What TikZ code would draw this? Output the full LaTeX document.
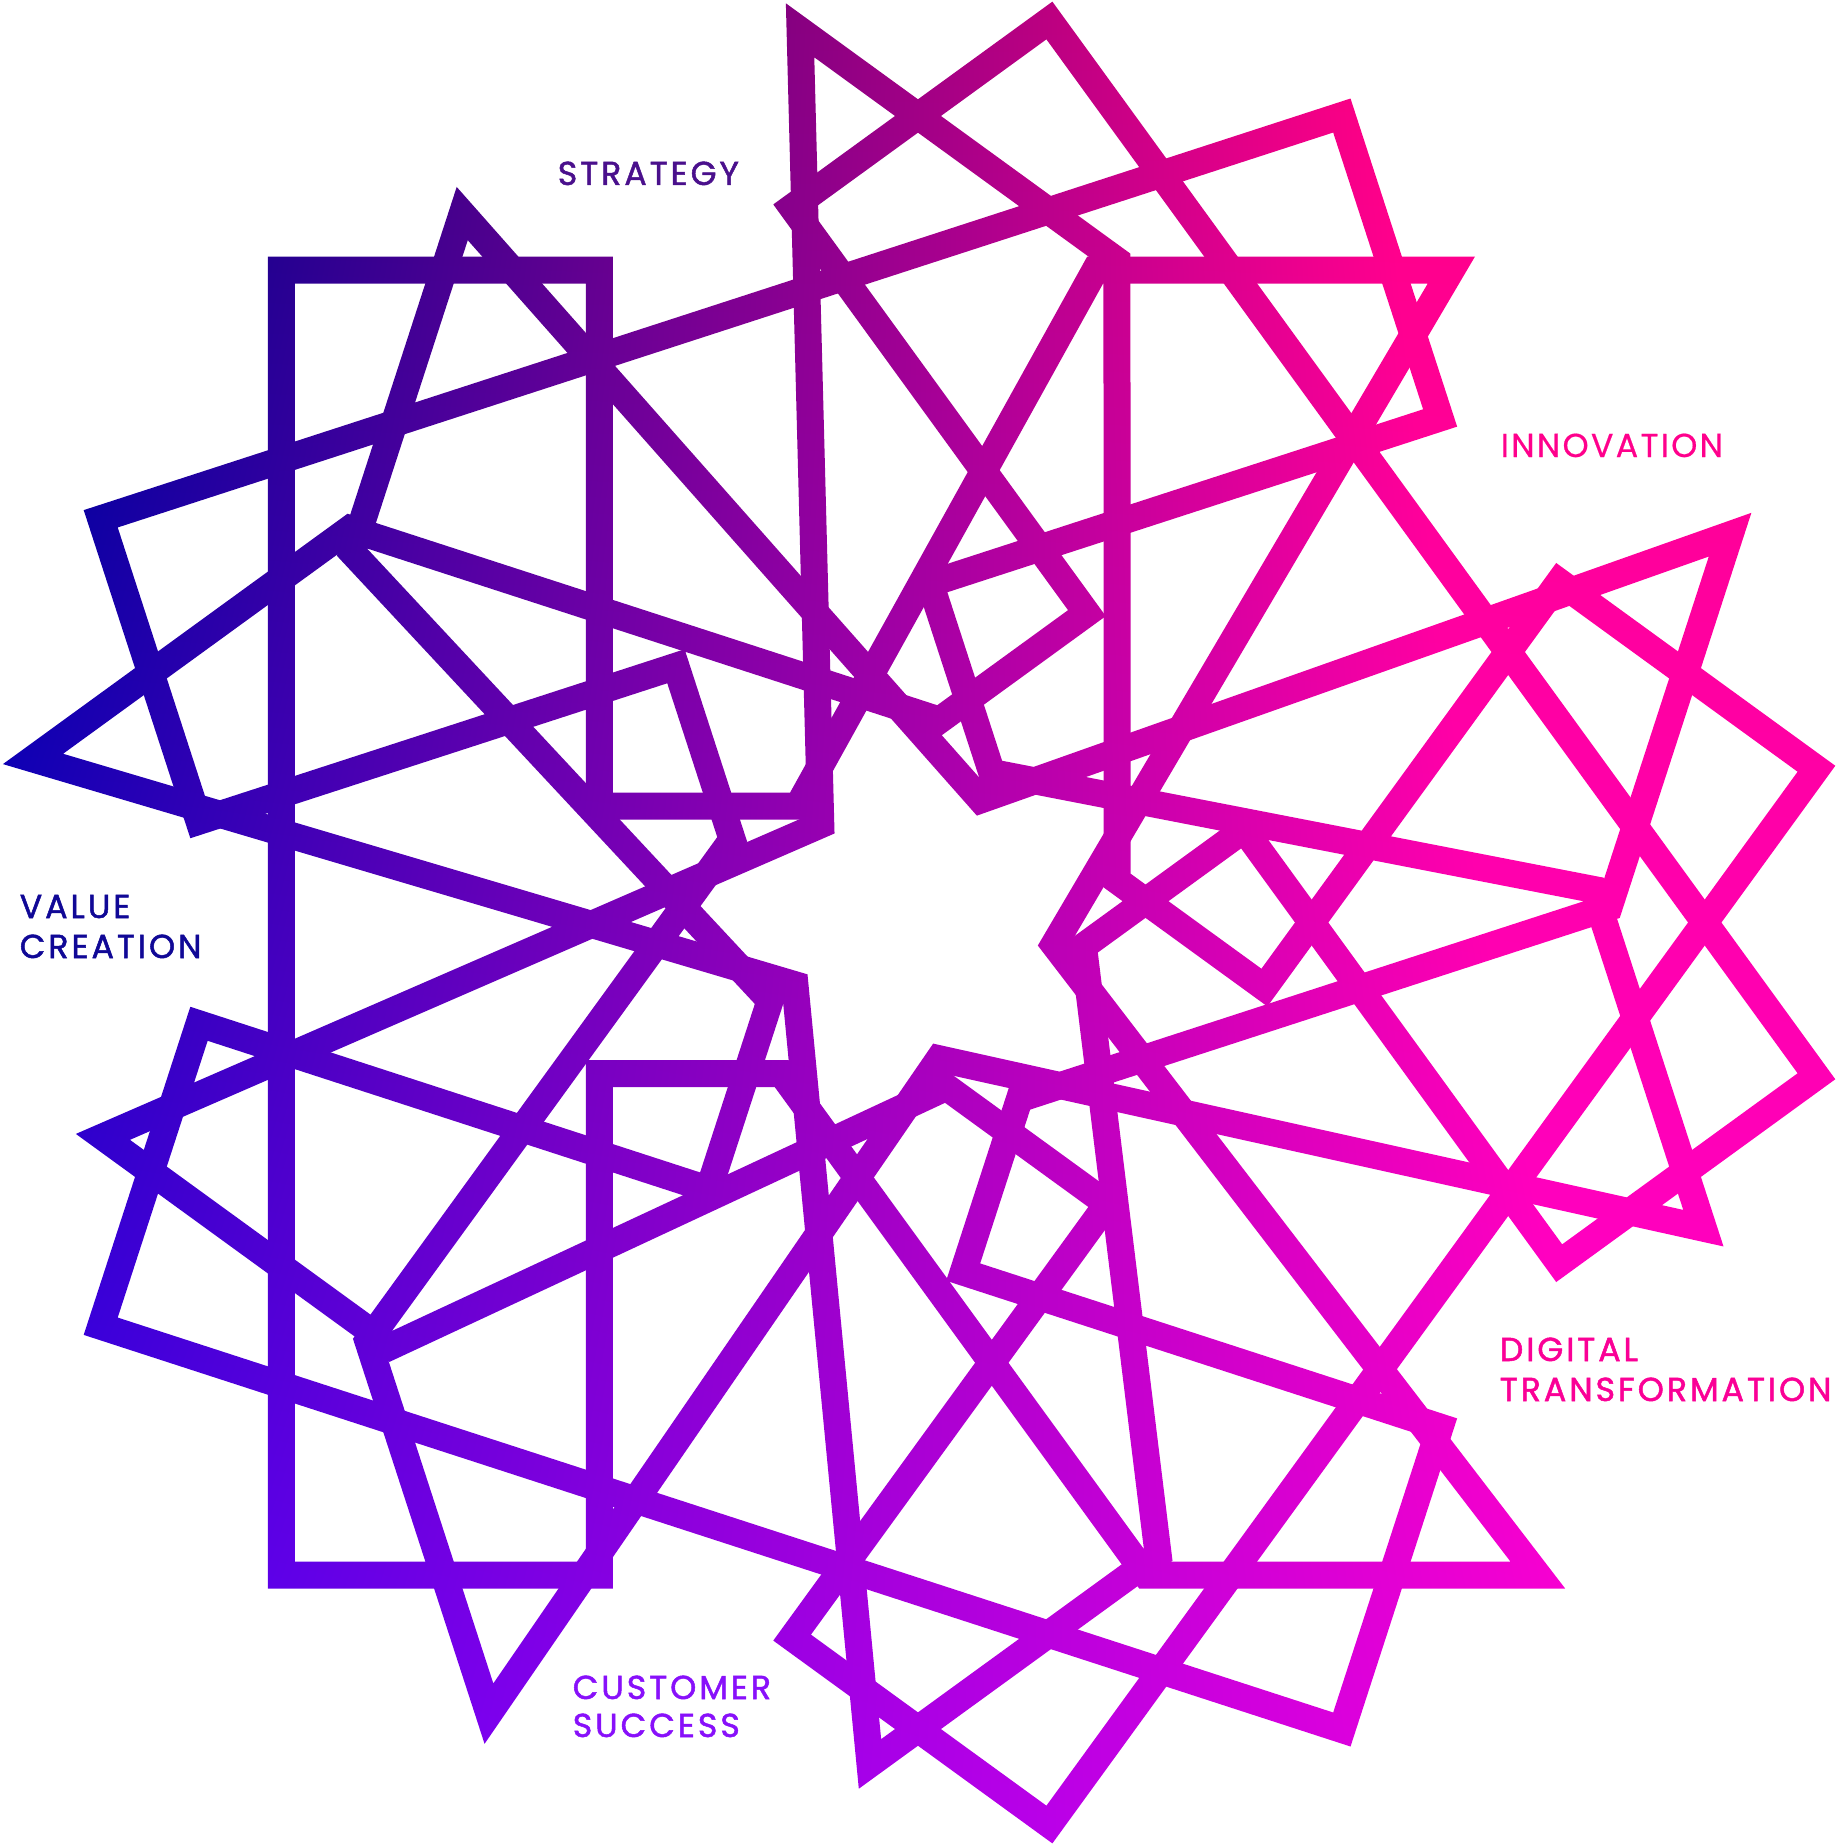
\documentclass[tikz,border=0pt]{standalone}
\usepackage{fontspec}
\setmainfont{Poppins}
\newfontfamily\labelfont[LetterSpace=9,FakeBold=1.5]{Poppins}
\newfontfamily\lightfont[LetterSpace=7,FakeBold=0.6]{Poppins}
\usepackage{tikz}
\usetikzlibrary{fadings}

\definecolor{strategyc}{RGB}{74,16,140}
\definecolor{innovc}{RGB}{255,0,140}
\definecolor{valuec}{RGB}{16,8,150}
\definecolor{customc}{RGB}{136,16,250}
\definecolor{digitalc}{RGB}{250,0,150}

% navy (left) - pink (right) - violet (bottom)
\pgfdeclarefunctionalshading{starshade}{\pgfpoint{-25bp}{-25bp}}{\pgfpoint{25bp}{25bp}}{}{
  25 add 50 div exch 25 add 50 div exch
  2 copy mul 0.75 mul 2 index 0.75 mul add 1 index -0.42 mul add 0.30 add
  dup 1 gt {pop 1} if dup 0 lt {pop 0} if
  0
  3 index 3 index mul 0.15 mul 4 index -0.15 mul add 3 index -0.5 mul add 1 add
  dup 1 gt {pop 1} if
  5 -2 roll pop pop
}

\tikzset{
  band/.style={draw=transparent!0, line width=6.75pt, line join=miter},
  lbl/.style={anchor=base west, inner sep=0pt, font={\labelfont\fontsize{8.3}{10}\selectfont}}
}

% one closed ring, drawn five times
\begin{tikzfadingfrompicture}[name=starmask, x=0.25pt, y=-0.25pt]
\useasboundingbox (-918,-922.5) rectangle (918,922.5);
\foreach \a in {0,72,...,288} {
  \draw[band, rotate=-\a] (-136.4,151) -- (-318.5,151) -- (-318.5,652.5) -- (-636.5,652.5)
    -- (-636.5,-652.5) -- (-318.5,-652.5) -- (-318.5,-116.5) -- (-119.9,-116.5)
    -- (177.2,-652.5) -- (533.4,-652.5) -- (136.1,22.0) -- (619.8,652.5)
    -- (228.1,652.5) -- cycle;
}
\end{tikzfadingfrompicture}

\begin{document}
\begin{tikzpicture}[x=0.25pt, y=-0.25pt]
\useasboundingbox (-918,-922.5) rectangle (918,922.5);
\shade[shading=starshade, path fading=starmask, fit fading=false] (-918,-922.5) rectangle (918,922.5);

\node[lbl, text=strategyc] (strategy) at (-361,-737.5) {STRATEGY};
\node[lbl, text=innovc, font={\lightfont\fontsize{8.3}{10}\selectfont}] (innovation) at (582,-465.5) {INNOVATION};
\node[lbl, text=valuec] (value) at (-899,-4.5) {VALUE};
\node[lbl, text=valuec] (creation) at (-899,35.5) {CREATION};
\node[lbl, text=customc] (customer) at (-346,776.5) {CUSTOMER};
\node[lbl, text=customc] (success) at (-346,814.5) {SUCCESS};
\node[lbl, text=digitalc] (digital) at (581,438.5) {DIGITAL};
\node[lbl, text=digitalc] (transform) at (581,478.5) {TRANSFORMATION};
\end{tikzpicture}
\end{document}
